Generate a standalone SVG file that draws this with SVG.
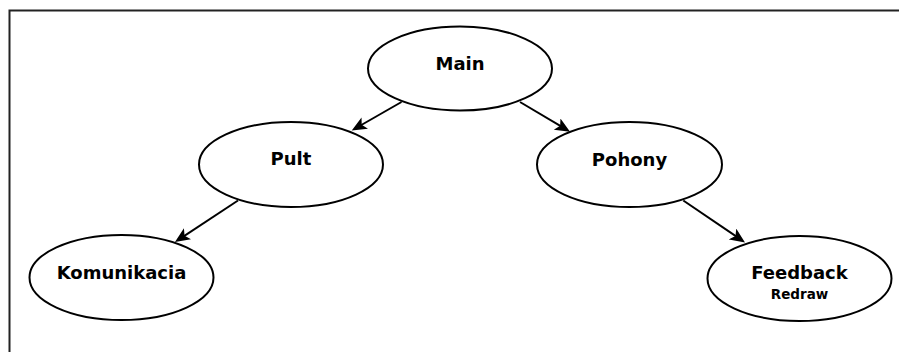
<svg xmlns="http://www.w3.org/2000/svg" width="899" height="352" viewBox="0 0 899 352">
<style>
.node ellipse{fill:#fff;stroke:#000;stroke-width:2}
.node text{font-family:"DejaVu Sans",Verdana,sans-serif;font-weight:bold;fill:#000;text-anchor:middle}
.lbl{font-size:18px}
.sub{font-size:13.5px}
.edge{stroke:#000;stroke-width:2;fill:none;marker-end:url(#arr)}
</style>
<defs>
<marker id="arr" markerUnits="userSpaceOnUse" markerWidth="18" markerHeight="14" refX="11" refY="6.5" orient="auto">
<path d="M0,0 L15,6.5 L0,13 L3.5,6.5 Z" fill="#000"/>
</marker>
</defs>
<rect x="9.5" y="10.5" width="900" height="400" fill="#fff" stroke="#222" stroke-width="2"/>
<g id="connectors">
<line class="edge" x1="401.5" y1="102" x2="355.2" y2="128.5"/>
<line class="edge" x1="520" y1="102" x2="566.6" y2="129.7"/>
<line class="edge" x1="238" y1="200.5" x2="178.3" y2="239.8"/>
<line class="edge" x1="683.3" y1="200.5" x2="741.7" y2="240.2"/>
</g>
<g id="main" class="node">
<ellipse cx="460" cy="68.5" rx="92" ry="42"/>
<text class="lbl" x="460" y="69.5">Main</text>
</g>
<g id="pult" class="node">
<ellipse cx="291" cy="164.5" rx="92" ry="42.5"/>
<text class="lbl" x="291" y="165">Pult</text>
</g>
<g id="pohony" class="node">
<ellipse cx="629.5" cy="164.5" rx="92.5" ry="42.5"/>
<text class="lbl" x="629.5" y="166">Pohony</text>
</g>
<g id="komunikacia" class="node">
<ellipse cx="121.5" cy="277.5" rx="92" ry="42.5"/>
<text class="lbl" x="121.5" y="278.5">Komunikacia</text>
</g>
<g id="feedback" class="node">
<ellipse cx="799.5" cy="278.5" rx="92" ry="42.5"/>
<text class="lbl" x="799.5" y="278.5">Feedback</text>
<text class="sub" x="799.5" y="298.5">Redraw</text>
</g>
</svg>
